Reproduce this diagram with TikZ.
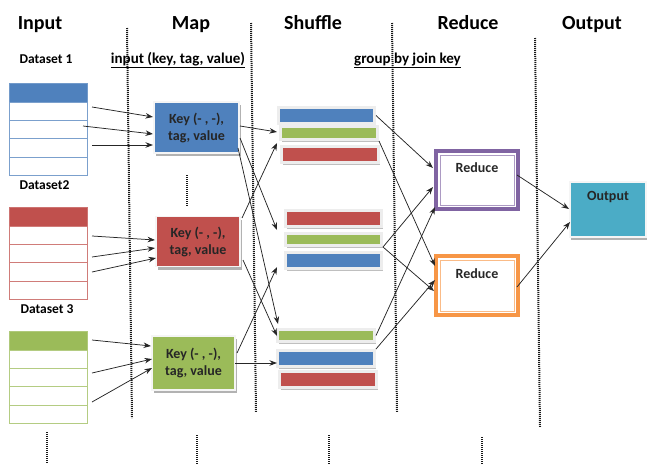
\documentclass[tikz,border=0pt]{standalone}
\usepackage{fontspec}
\setmainfont{Carlito}
\usetikzlibrary{arrows.meta,calc,shadows}
\definecolor{oblue}{HTML}{4F81BD}
\definecolor{ored}{HTML}{C0504D}
\definecolor{ogreen}{HTML}{9BBB59}
\definecolor{opurple}{HTML}{8064A2}
\definecolor{oorange}{HTML}{F79646}
\definecolor{oteal}{HTML}{4BACC6}
\begin{document}
\begin{tikzpicture}[x=1pt,y=-1pt,
  head/.style={font=\bfseries\fontsize{20}{24}\selectfont, inner sep=0, anchor=base},
  dlab/.style={font=\bfseries\fontsize{13.5}{15}\selectfont, inner sep=0, anchor=base},
  ulab/.style={font=\bfseries\fontsize{15}{18}\selectfont, inner sep=0, anchor=base},
  btext/.style={font=\bfseries\fontsize{14}{17}\selectfont, inner sep=0, anchor=base, text=black!85},
  thead/.style={fill=#1, draw=#1!80, line width=0.8pt, minimum width=78, minimum height=19, inner sep=0, anchor=north west},
  trow/.style={fill=white, draw=#1!75, line width=0.8pt, minimum width=78, minimum height=18.2, inner sep=0, anchor=north west},
  mapbox/.style={fill=#1, draw=black!4, line width=1.5pt, inner sep=0, align=center,
    font=\bfseries\fontsize{14}{17}\selectfont, text=black!85,
    drop shadow={shadow xshift=2pt, shadow yshift=-3pt, fill=black!30, opacity=1}},
  bar/.style={fill=#1, draw=black!7, line width=3pt, inner sep=0,
    drop shadow={shadow xshift=1.5pt, shadow yshift=-2pt, fill=black!25, opacity=1}},
  redbox/.style={draw=#1, fill=white, line width=4pt, inner sep=0},
  outbox/.style={fill=oteal, draw=black!4, line width=1.5pt, inner sep=0,
    drop shadow={shadow xshift=1pt, shadow yshift=-3pt, fill=black!30, opacity=1}},
  arr/.style={-{Stealth[length=7.5pt,width=5.5pt]}, line width=0.75pt, black!85},
  dots/.style={line width=2pt, dash pattern=on 1pt off 1pt, black!90}
]
\useasboundingbox (0,0) rectangle (647,464);

% dotted separators
\draw[dots] (127,28) -- (132,418);
\draw[dots] (251,23) -- (256,412);
\draw[dots] (392,23) -- (397,412);
\draw[dots] (535,38) -- (540,427);
\draw[dots] (187,175) -- (187,207);
\draw[dots] (47,432) -- (47,464);
\draw[dots] (197,435) -- (197,464);
\draw[dots] (329,435) -- (329,464);
\draw[dots] (482,437) -- (482,464);

% headers
\node[head] (hIn) at (40,29) {Input};
\node[head] (hMap) at (191,29) {Map};
\node[head] (hShuf) at (313,29) {Shuffle};
\node[head] (hRed) at (468,29) {Reduce};
\node[head] (hOut) at (592,29) {Output};

\node[dlab] (l1) at (46,63) {Dataset 1};
\node[dlab] (l2) at (44.5,189) {Dataset2};
\node[dlab] (l3) at (47,313) {Dataset 3};
\node[ulab] (uin) at (178,63) {\underline{input (key, tag, value)}};
\node[ulab] (ugrp) at (407.5,63) {\underline{group by join key}};

% tables
\foreach \t/\c/\y in {1/oblue/83, 2/ored/207, 3/ogreen/331}{
  \node[thead=\c] (tab\t-h) at (9,\y) {};
  \foreach \r in {1,...,4}
    \node[trow=\c] (tab\t-r\r) at (9,{\y+19+(\r-1)*18.2}) {};
}

% map boxes
\node[mapbox=oblue, minimum width=85, minimum height=51] (m1) at (196.5,127.5) {Key (- , -),\\tag, value};
\node[mapbox=ored, minimum width=84, minimum height=50] (m2) at (198,241.5) {Key (- , -),\\tag, value};
\node[mapbox=ogreen, minimum width=83, minimum height=54] (m3) at (193.5,363) {Key (- , -),\\tag, value};

% shuffle bars
\node[bar=oblue,  minimum width=96, minimum height=16] (g1b) at (326.5,115.5) {};
\node[bar=ogreen, minimum width=97, minimum height=13] (g1g) at (329,133) {};
\node[bar=ored,   minimum width=97, minimum height=16] (g1r) at (330,154.5) {};
\node[bar=ored,   minimum width=96, minimum height=16] (g2r) at (333.5,218.5) {};
\node[bar=ogreen, minimum width=96, minimum height=12] (g2g) at (333.5,239.5) {};
\node[bar=oblue,  minimum width=96, minimum height=16] (g2b) at (333.5,260.5) {};
\node[bar=ogreen, minimum width=97, minimum height=12] (g3g) at (326,335.5) {};
\node[bar=oblue,  minimum width=97, minimum height=16] (g3b) at (326,358.5) {};
\node[bar=ored,   minimum width=97, minimum height=16] (g3r) at (328,379.5) {};

% reduce boxes
\node[redbox=opurple, minimum width=82, minimum height=58] (r1) at (477,180) {};
\draw[opurple!65, line width=0.8pt] ($(r1.north west)+(6,6)$) rectangle ($(r1.south east)+(-6,-6)$);
\node[btext] (r1t) at (477,172) {Reduce};
\node[redbox=oorange, minimum width=82, minimum height=59] (r2) at (477,285.5) {};
\draw[oorange!65, line width=0.8pt] ($(r2.north west)+(6,6)$) rectangle ($(r2.south east)+(-6,-6)$);
\node[btext] (r2t) at (477,278) {Reduce};

% output
\node[outbox, minimum width=76, minimum height=55] (out) at (608,209.5) {};
\node[btext] (outt) at (608,200.5) {Output};

% arrow coordinates
\coordinate (a11) at (92,107);  \coordinate (b11) at (153,117);
\coordinate (a12) at (83,126);  \coordinate (b12) at (153,134);
\coordinate (a13) at (92,145);  \coordinate (b13) at (153,145);
\coordinate (a21) at (92,236);  \coordinate (b21) at (155,240);
\coordinate (a22) at (92,257);  \coordinate (b22) at (155,248);
\coordinate (a23) at (92,272);  \coordinate (b23) at (156,258);
\coordinate (a31) at (92,340);  \coordinate (b31) at (151,346);
\coordinate (a32) at (92,373);  \coordinate (b32) at (152,359);
\coordinate (a33) at (92,402);  \coordinate (b33) at (152,368);

\draw[arr] (a11) -- (b11);
\draw[arr] (a12) -- (b12);
\draw[arr] (a13) -- (b13);
\draw[arr] (a21) -- (b21);
\draw[arr] (a22) -- (b22);
\draw[arr] (a23) -- (b23);
\draw[arr] (a31) -- (b31);
\draw[arr] (a32) -- (b32);
\draw[arr] (a33) -- (b33);

% map -> shuffle
\coordinate (m1o1) at (240,126); \coordinate (s1i1) at (277,132);
\coordinate (m1o2) at (240,138); \coordinate (s2i1) at (277,230);
\coordinate (m1o3) at (238,148); \coordinate (s3i1) at (278,324);
\coordinate (m2o1) at (242,218); \coordinate (s1i2) at (277,143);
\coordinate (m2o2) at (243,260); \coordinate (s3i2) at (277,336);
\coordinate (m3o1) at (237,353); \coordinate (s2i2) at (277,267);
\coordinate (m3o2) at (235,363); \coordinate (s3i3) at (277,363);
\draw[arr] (m1o1) -- (s1i1);
\draw[arr] (m1o2) -- (s2i1);
\draw[arr] (m1o3) -- (s3i1);
\draw[arr] (m2o1) -- (s1i2);
\draw[arr] (m2o2) -- (s3i2);
\draw[arr] (m3o1) -- (s2i2);
\draw[arr] (m3o2) -- (s3i3);

% shuffle -> reduce
\coordinate (r1i1) at (433,168);
\coordinate (r1i2) at (433,187);
\coordinate (r1i3) at (435,207);
\coordinate (r2i1) at (435,266);
\coordinate (r2i2) at (435,280);
\coordinate (r2i3) at (434,291);
\draw[arr] (g1b.east) -- (r1i1);
\draw[arr] (g1g.south east) -- (r2i1);
\draw[arr] (g2g.south east) -- (r1i2);
\draw[arr] (g2g.south east) -- (r2i3);
\draw[arr] (g3g.east) -- (r1i3);
\draw[arr] (g3b.north east) -- (r2i2);

% reduce -> output
\coordinate (r1o) at (517,175); \coordinate (oi1) at (569,209);
\coordinate (r2o) at (517,287); \coordinate (oi2) at (570,222);
\draw[arr] (r1o) -- (oi1);
\draw[arr] (r2o) -- (oi2);
\end{tikzpicture}
\end{document}
